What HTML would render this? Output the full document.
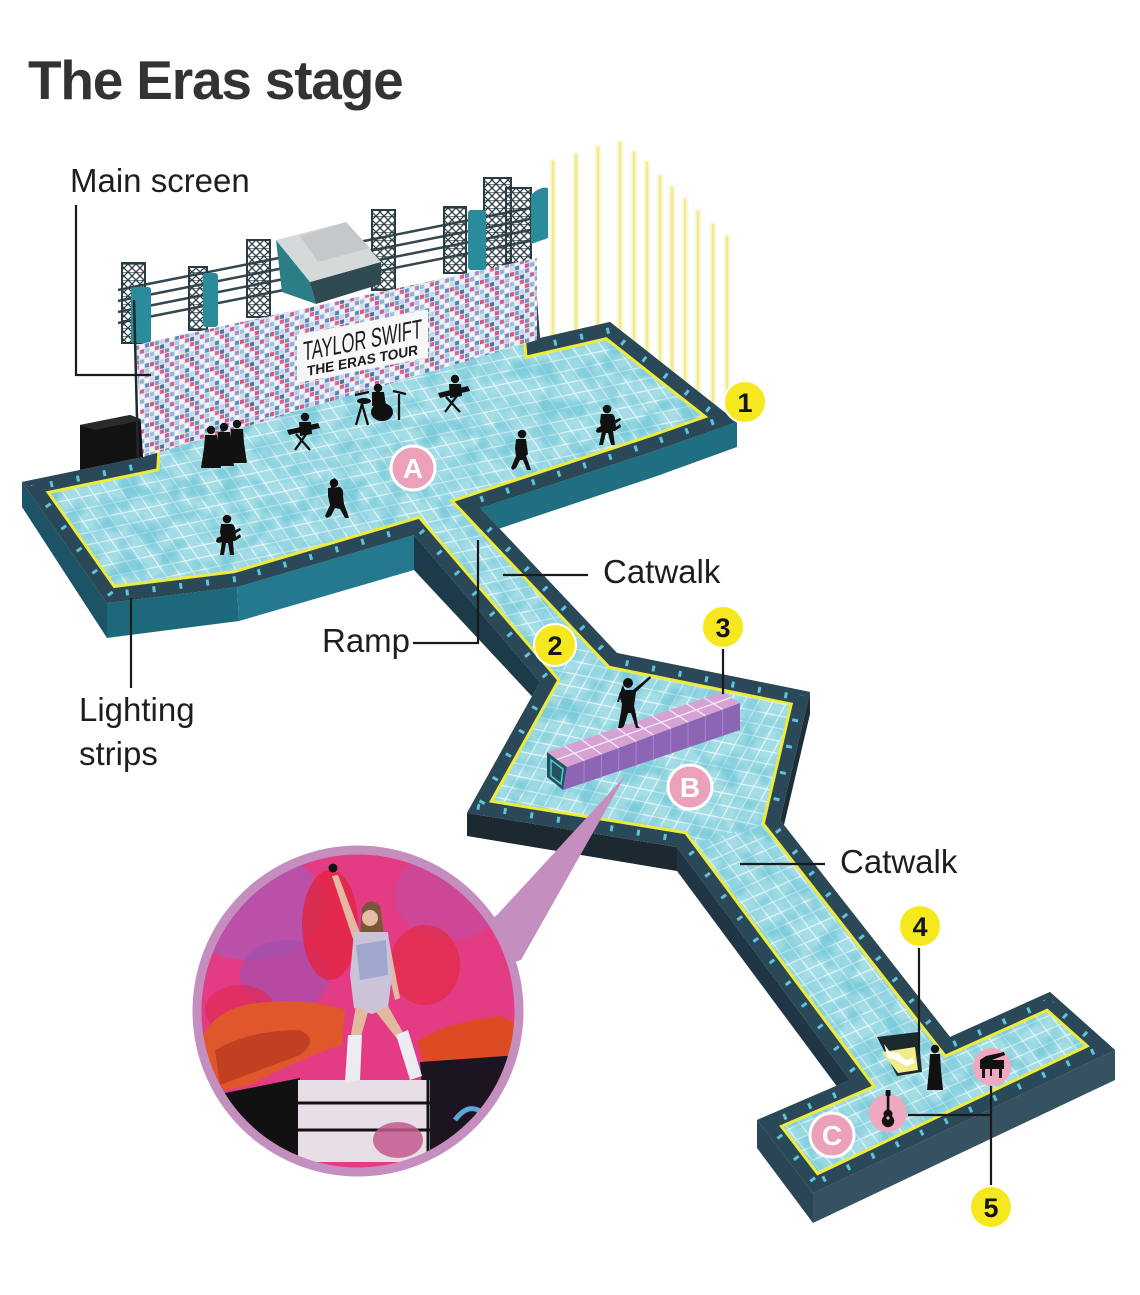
<!DOCTYPE html>
<html><head><meta charset="utf-8"><style>
html,body{margin:0;padding:0;background:#fff;}
svg{display:block;}
text{font-family:"Liberation Sans",sans-serif;}
</style></head><body>
<svg width="1140" height="1295" viewBox="0 0 1140 1295" xmlns="http://www.w3.org/2000/svg">
<defs>
<pattern id="gMain" width="13" height="13" patternUnits="userSpaceOnUse" patternTransform="matrix(1 -0.21 0.575 0.82 0 0)">
<path d="M0,0.6 H13 M0.6,0 V13" stroke="#f3fcfd" stroke-width="1.2" fill="none" opacity="0.85"/>
</pattern>
<pattern id="gB" width="13" height="13" patternUnits="userSpaceOnUse" patternTransform="matrix(0.98 0.2 -0.487 0.873 0 0)">
<path d="M0,0.6 H13 M0.6,0 V13" stroke="#f3fcfd" stroke-width="1.2" fill="none" opacity="0.85"/>
</pattern>
<pattern id="gC" width="13" height="13" patternUnits="userSpaceOnUse" patternTransform="matrix(0.916 -0.4 0.609 0.793 0 0)">
<path d="M0,0.6 H13 M0.6,0 V13" stroke="#f3fcfd" stroke-width="1.2" fill="none" opacity="0.85"/>
</pattern>
<pattern id="mosaic" width="30" height="20" patternUnits="userSpaceOnUse" patternTransform="skewY(-14)">
<rect width="30" height="20" fill="#d9e6ef"/>
<rect x="0" y="0" width="4" height="4" fill="#df3d6f"/>
<rect x="5" y="0" width="4" height="4" fill="#6d95c4"/>
<rect x="10" y="0" width="4" height="4" fill="#b9d2e6"/>
<rect x="15" y="0" width="4" height="4" fill="#8d74b4"/>
<rect x="20" y="0" width="4" height="4" fill="#f3f3f7"/>
<rect x="25" y="0" width="4" height="4" fill="#4f7fb5"/>
<rect x="0" y="5" width="4" height="4" fill="#f3f3f7"/>
<rect x="5" y="5" width="4" height="4" fill="#d6527f"/>
<rect x="10" y="5" width="4" height="4" fill="#3a5f8e"/>
<rect x="15" y="5" width="4" height="4" fill="#cfe0ee"/>
<rect x="20" y="5" width="4" height="4" fill="#c94b88"/>
<rect x="25" y="5" width="4" height="4" fill="#a9c6e0"/>
<rect x="0" y="10" width="4" height="4" fill="#93b9d8"/>
<rect x="5" y="10" width="4" height="4" fill="#eef2f6"/>
<rect x="10" y="10" width="4" height="4" fill="#e2487a"/>
<rect x="15" y="10" width="4" height="4" fill="#5a86ba"/>
<rect x="20" y="10" width="4" height="4" fill="#f0f0f4"/>
<rect x="25" y="10" width="4" height="4" fill="#9a80bc"/>
<rect x="0" y="15" width="4" height="4" fill="#c7d9e8"/>
<rect x="5" y="15" width="4" height="4" fill="#4470a6"/>
<rect x="10" y="15" width="4" height="4" fill="#eef2f6"/>
<rect x="15" y="15" width="4" height="4" fill="#d94078"/>
<rect x="20" y="15" width="4" height="4" fill="#7fa6cf"/>
<rect x="25" y="15" width="4" height="4" fill="#f5f5f8"/>
</pattern>
<pattern id="truss" width="8" height="8" patternUnits="userSpaceOnUse">
<path d="M0,0 L8,8 M8,0 L0,8 M0,0 H8" stroke="#2e3f45" stroke-width="1.3" fill="none"/>
</pattern>
<filter id="mott" x="0" y="0" width="100%" height="100%" color-interpolation-filters="sRGB">
<feTurbulence type="fractalNoise" baseFrequency="0.05" numOctaves="2" seed="7"/>
<feColorMatrix type="matrix" values="0 0 0 0 0.36  0 0 0 0 0.74  0 0 0 0 0.82  3 0 0 0 -1.2"/>
</filter>
<clipPath id="stageClip"><polygon points="22,482 143,457 145,420 537,300 540,338 610,322 737,422 657,450 480,508 617,653 810,692 780,820 950,1037 1050,992 1115,1050 813,1193 757,1120 850,1080 677,847 467,813 540,682 414,535 237,587 107,603"/></clipPath>
<clipPath id="photoClip"><circle cx="358" cy="1011" r="157"/></clipPath>
</defs>

<!-- Title -->
<text x="28" y="99" font-size="55" font-weight="bold" fill="#333" letter-spacing="-1.2">The Eras stage</text>

<!-- light beams -->
<g stroke-linecap="round">
<g stroke="#f6f1b4" stroke-width="7" opacity="0.45">
<line x1="553" y1="162" x2="553" y2="335"/><line x1="576" y1="155" x2="576" y2="335"/><line x1="598" y1="148" x2="598" y2="335"/><line x1="620" y1="143" x2="620" y2="334"/><line x1="634" y1="153" x2="634" y2="345"/><line x1="647" y1="163" x2="647" y2="355"/><line x1="660" y1="177" x2="660" y2="365"/><line x1="672" y1="188" x2="672" y2="375"/><line x1="685" y1="200" x2="685" y2="385"/><line x1="698" y1="212" x2="698" y2="395"/><line x1="713" y1="225" x2="713" y2="407"/><line x1="727" y1="237" x2="727" y2="418"/>
</g>
<g stroke="#f2ea8c" stroke-width="2.6">
<line x1="553" y1="162" x2="553" y2="335"/><line x1="576" y1="155" x2="576" y2="335"/><line x1="598" y1="148" x2="598" y2="335"/><line x1="620" y1="143" x2="620" y2="334"/><line x1="634" y1="153" x2="634" y2="345"/><line x1="647" y1="163" x2="647" y2="355"/><line x1="660" y1="177" x2="660" y2="365"/><line x1="672" y1="188" x2="672" y2="375"/><line x1="685" y1="200" x2="685" y2="385"/><line x1="698" y1="212" x2="698" y2="395"/><line x1="713" y1="225" x2="713" y2="407"/><line x1="727" y1="237" x2="727" y2="418"/>
</g>
</g>

<!-- rails -->
<g stroke="#34474e" stroke-width="2.5">
<line x1="118" y1="290" x2="545" y2="205"/>
<line x1="118" y1="301" x2="545" y2="216"/>
<line x1="118" y1="312" x2="545" y2="227"/>
<line x1="118" y1="323" x2="545" y2="238"/>
</g>
<!-- trusses -->
<g fill="url(#truss)" stroke="#2b3b41" stroke-width="2">
<rect x="122" y="263" width="23" height="80"/>
<rect x="189" y="267" width="18" height="63"/>
<rect x="247" y="240" width="23" height="77"/>
<rect x="372" y="210" width="23" height="80"/>
<rect x="444" y="207" width="22" height="66"/>
<rect x="484" y="178" width="27" height="92"/>
<rect x="506" y="188" width="25" height="75"/>
</g>
<!-- gray box -->
<polygon points="276,240 310,282 316,304 282,292" fill="#2b7d86"/>
<polygon points="310,282 381,262 381,284 316,304" fill="#2f4a50"/>
<polygon points="276,240 346,222 381,262 310,282" fill="#d5d9d9"/>
<polygon points="300,236 346,222 370,248 318,262" fill="#c3c9ca"/>
<!-- teal blades -->
<g fill="#2a8b9a">
<rect x="131" y="287" width="20" height="56" rx="3"/>
<rect x="203" y="273" width="15" height="54" rx="3"/>
<rect x="468" y="210" width="18" height="60" rx="3"/>
<path d="M531,195 Q540,186 548,188 L548,238 L531,244 Z"/>
</g>

<!-- amp box -->
<polygon points="80,425 130,415 143,420 143,463 80,470" fill="#121212"/>
<polygon points="80,425 130,415 143,420 95,430" fill="#2a2a2a"/>

<!-- walls -->
<polygon points="22,482 107,603 107,638 22,507" fill="#1c5367"/>
<polygon points="107,603 237,587 239,621 107,638" fill="#1e687c"/>
<polygon points="237,587 414,535 414,570 239,621" fill="#24798f"/>
<polygon points="737,422 737,447 657,476 480,535 480,508 657,450" fill="#1f6e82"/>
<polygon points="414,535 540,682 540,705 414,570" fill="#1c3a48"/>
<polygon points="540,682 467,813 467,836 540,705" fill="#1a2c36"/>
<polygon points="467,813 677,847 677,871 467,836" fill="#1d2931"/>
<polygon points="677,847 850,1080 850,1104 677,871" fill="#203645"/>
<polygon points="810,692 780,820 780,842 810,714" fill="#1d2e38"/>
<polygon points="757,1120 813,1193 813,1223 757,1148" fill="#2a4555"/>
<polygon points="813,1193 1115,1050 1115,1080 813,1223" fill="#36515f"/>

<!-- stage top -->
<g clip-path="url(#stageClip)">
<rect x="0" y="280" width="1140" height="960" fill="#a4dde6"/>
<rect x="0" y="280" width="1140" height="960" fill="url(#gMain)"/>
<polygon points="562,642 812,692 782,822 677,849 465,815" fill="#a4dde6"/>
<polygon points="562,642 812,692 782,822 677,849 465,815" fill="url(#gB)"/>
<polygon points="677,847 780,820 950,1037 1050,992 1115,1050 813,1193 757,1120 850,1080" fill="#a4dde6"/>
<polygon points="677,847 780,820 950,1037 1050,992 1115,1050 813,1193 757,1120 850,1080" fill="url(#gC)"/>
<rect x="0" y="280" width="1140" height="960" filter="url(#mott)" opacity="0.55"/>
<g fill="none" stroke-linejoin="miter">
<polygon points="22,482 143,457 145,420 537,300 540,338 610,322 737,422 657,450 480,508 617,653 810,692 780,820 950,1037 1050,992 1115,1050 813,1193 757,1120 850,1080 677,847 467,813 540,682 414,535 237,587 107,603" stroke="#eeeb3a" stroke-width="34"/>
<polygon points="22,482 143,457 145,420 537,300 540,338 610,322 737,422 657,450 480,508 617,653 810,692 780,820 950,1037 1050,992 1115,1050 813,1193 757,1120 850,1080 677,847 467,813 540,682 414,535 237,587 107,603" stroke="#2a4858" stroke-width="28"/>
<polygon points="22,482 143,457 145,420 537,300 540,338 610,322 737,422 657,450 480,508 617,653 810,692 780,820 950,1037 1050,992 1115,1050 813,1193 757,1120 850,1080 677,847 467,813 540,682 414,535 237,587 107,603" stroke="#5ec4d8" stroke-width="22" stroke-dasharray="3 24"/>
<polygon points="22,482 143,457 145,420 537,300 540,338 610,322 737,422 657,450 480,508 617,653 810,692 780,820 950,1037 1050,992 1115,1050 813,1193 757,1120 850,1080 677,847 467,813 540,682 414,535 237,587 107,603" stroke="#2a4858" stroke-width="10"/>
</g>
</g>

<!-- screen -->
<polygon points="136,345 537,258 537,340 143,457" fill="url(#mosaic)"/>
<polygon points="136,345 537,258 537,340 143,457" fill="#ffffff" opacity="0.1"/>
<line x1="134" y1="300" x2="138" y2="457" stroke="#1e2a2e" stroke-width="2.5"/>
<!-- banner -->
<g transform="translate(297,335) skewY(-11)">
<rect x="0" y="0" width="131" height="48" fill="#f7f7f7"/>
<text x="6" y="27" font-size="27" font-family="Liberation Serif, serif" fill="#1a1a1a" textLength="119" lengthAdjust="spacingAndGlyphs">TAYLOR SWIFT</text>
<text x="10" y="43" font-size="14" font-weight="bold" font-family="Liberation Serif, serif" fill="#1a1a1a" textLength="111" lengthAdjust="spacingAndGlyphs">THE ERAS TOUR</text>
</g>

<!-- purple platform -->
<polygon points="547,752 567,767 563,790 547,777" fill="#24525c"/>
<polygon points="551,760 563,769 561,784 551,776" fill="none" stroke="#55c7d8" stroke-width="1.5"/>
<polygon points="567,767 740,703 740,730 563,790" fill="#8c66b4"/>
<polygon points="547,752 722,692 740,703 567,767" fill="#d6a2d4"/>
<g stroke="#f6e9f6" stroke-width="1.3">
<line x1="564.5" y1="746" x2="584.3" y2="760.6"/><line x1="582" y1="740" x2="601.6" y2="754.2"/><line x1="599.5" y1="734" x2="618.9" y2="747.8"/><line x1="617" y1="728" x2="636.2" y2="741.4"/><line x1="634.5" y1="722" x2="653.5" y2="735"/><line x1="652" y1="716" x2="670.8" y2="728.6"/><line x1="669.5" y1="710" x2="688.1" y2="722.2"/><line x1="687" y1="704" x2="705.4" y2="715.8"/><line x1="704.5" y1="698" x2="722.7" y2="709.4"/>
<line x1="557" y1="759.5" x2="731" y2="697.5"/>
</g>
<g stroke="#a584cc" stroke-width="1">
<line x1="584.3" y1="760.6" x2="583.8" y2="784"/><line x1="601.6" y1="754.2" x2="601.2" y2="778"/><line x1="618.9" y1="747.8" x2="618.6" y2="772"/><line x1="636.2" y1="741.4" x2="636" y2="766"/><line x1="653.5" y1="735" x2="653.4" y2="760"/><line x1="670.8" y1="728.6" x2="670.7" y2="754"/><line x1="688.1" y1="722.2" x2="688" y2="748"/><line x1="705.4" y1="715.8" x2="705.3" y2="742"/><line x1="722.7" y1="709.4" x2="722.6" y2="736"/>
</g>

<!-- silhouettes -->
<g fill="#111">
<circle cx="211" cy="430" r="4.2"/><path d="M205,435 L217,435 L218,448 L221,468 L201,468 L204,448 Z"/>
<circle cx="224" cy="427" r="4.2"/><path d="M218,432 L230,432 L231,446 L234,466 L214,466 L217,446 Z"/>
<circle cx="237" cy="424" r="4.2"/><path d="M231,429 L243,429 L244,443 L247,463 L227,463 L230,443 Z"/>
<circle cx="305" cy="417" r="4.2"/><path d="M299,422 L311,422 L312,434 L300,436 Z"/>
<path d="M287,430 L318,423 L320,428 L289,435 Z"/>
<circle cx="378" cy="388" r="4.2"/><path d="M372,392 L384,392 L386,405 L372,406 Z"/>
<ellipse cx="382" cy="412" rx="11" ry="9"/><ellipse cx="364" cy="401" rx="7" ry="3"/>
<circle cx="455" cy="379" r="4.2"/><path d="M449,384 L461,384 L462,396 L450,398 Z"/>
<path d="M438,393 L468,386 L470,391 L440,398 Z"/>
<g transform="translate(227,555)"><circle cx="0" cy="-36" r="4.3"/><path d="M-6,-31 L5,-31 Q8,-30 8,-25 L9,-18 L13,-21 L14,-18 L8,-14 L6,-14 L7,0 L3,0 L1,-12 L-1,-12 L-3,0 L-7,0 L-5,-14 L-7,-23 Z"/><path d="M-10,-17 L13,-27 L14,-25 L-5,-13 Q-10,-11 -11,-14 Z"/></g>
<g transform="translate(336,518)"><circle cx="-2" cy="-35" r="4.3"/><path d="M-8,-30 L4,-31 Q8,-28 7,-22 L8,-14 L11,-6 L13,0 L9,0 L4,-9 L-1,-10 L-5,-2 L-9,0 L-11,-2 L-6,-13 L-8,-22 Z"/><path d="M-5,-34 L-2,-40 L0,-39 L-2,-28 Q-1,-20 -5,-20 Z"/></g>
<g transform="translate(520,470)"><circle cx="2" cy="-36" r="4.3"/><path d="M-4,-31 L6,-31 L8,-16 L6,-14 L9,-6 L11,0 L7,0 L3,-10 L0,-10 L-4,-2 L-7,0 L-9,-2 L-4,-14 L-5,-22 Z"/></g>
<g transform="translate(607,445)"><circle cx="0" cy="-36" r="4.3"/><path d="M-6,-31 L5,-31 Q8,-30 8,-25 L9,-18 L13,-21 L14,-18 L8,-14 L6,-14 L8,0 L4,0 L1,-12 L-1,-12 L-4,0 L-8,0 L-5,-14 L-7,-23 Z"/><path d="M-10,-17 L13,-27 L14,-25 L-5,-13 Q-10,-11 -11,-14 Z"/></g>
<g transform="translate(628,728)"><circle cx="0" cy="-45" r="5"/><path d="M-5,-43 Q-9,-35 -7,-29 L-3,-38 Z"/><path d="M-5,-38 L5,-38 L16,-47 L22,-52 L23,-50 L8,-36 L6,-22 L7,-18 L10,-2 L12,0 L8,0 L3,-15 L0,-15 L-4,-2 L-6,0 L-10,0 L-7,-16 L-6,-24 L-8,-30 L-9,-26 L-11,-26 L-8,-36 Z"/></g>
</g>
<g stroke="#111" stroke-width="2.3">
<line x1="296" y1="434" x2="310" y2="450"/><line x1="309" y1="430" x2="295" y2="450"/>
<line x1="446" y1="397" x2="460" y2="412"/><line x1="459" y1="393" x2="445" y2="412"/>
<line x1="355" y1="395" x2="369" y2="392"/><line x1="393" y1="391" x2="406" y2="394"/>
<line x1="362" y1="404" x2="356" y2="425"/><line x1="362" y1="404" x2="368" y2="425"/><line x1="399" y1="394" x2="399" y2="420"/>
</g>

<!-- C stage lift and figure -->
<polygon points="877,1037 918,1032 922,1072 897,1076" fill="#1c2a2e"/>
<polygon points="882,1052 915,1047 918,1070 898,1073" fill="#f1ec8a"/>
<path d="M884,1044 L890,1052 L898,1053 L906,1060 L913,1058 L915,1063 L906,1066 L896,1060 L888,1058 Z" fill="#fff"/>
<circle cx="935" cy="1049" r="4.2" fill="#111"/>
<path d="M930,1054 L940,1054 L941,1070 L943,1090 L927,1090 L929,1070 Z" fill="#111"/>

<!-- photo callout -->
<polygon points="625,776 497,915 358,1011 521,960" fill="#c48fbf"/>
<g clip-path="url(#photoClip)">
<rect x="190" y="840" width="340" height="345" fill="#e33c84"/>
<ellipse cx="250" cy="905" rx="75" ry="55" fill="#b354ad" opacity="0.85"/>
<ellipse cx="285" cy="975" rx="45" ry="35" fill="#a24fae" opacity="0.7"/>
<ellipse cx="450" cy="895" rx="55" ry="45" fill="#c74b9e" opacity="0.75"/>
<ellipse cx="330" cy="925" rx="28" ry="55" fill="#e22440" opacity="0.8"/>
<ellipse cx="425" cy="965" rx="35" ry="40" fill="#e32a47" opacity="0.75"/>
<ellipse cx="240" cy="1010" rx="35" ry="25" fill="#e12a55" opacity="0.7"/>
<path d="M200,1040 Q215,1010 250,1004 Q300,996 345,1010 L342,1045 Q300,1058 250,1085 L200,1095 Z" fill="#e0572b"/>
<path d="M215,1050 Q250,1030 300,1030 Q320,1040 300,1055 Q260,1070 220,1085 Z" fill="#b53620" opacity="0.7"/>
<path d="M417,1042 Q445,1022 500,1016 L520,1025 L520,1062 Q470,1072 425,1066 Z" fill="#dd4b25"/>
<polygon points="190,1100 300,1078 300,1190 190,1190" fill="#111"/>
<polygon points="420,1062 520,1055 520,1190 430,1190" fill="#1c1420"/>
<path d="M455,1120 Q470,1100 485,1115 Q495,1125 505,1108" stroke="#5aa6d8" stroke-width="5" fill="none"/>
<rect x="298" y="1080" width="132" height="82" fill="#e8dfe6"/>
<g stroke="#111" stroke-width="3"><line x1="298" y1="1103" x2="430" y2="1103"/><line x1="298" y1="1130" x2="430" y2="1130"/><line x1="428" y1="1080" x2="428" y2="1162"/></g>
<ellipse cx="398" cy="1140" rx="25" ry="18" fill="#c35a8c" opacity="0.85"/>
<path d="M362,938 L338,875 L332,876 L354,942 Z" fill="#e4b9a2"/>
<circle cx="333" cy="868" r="4.5" fill="#111"/>
<path d="M388,935 L400,998 L395,1000 L382,945 Z" fill="#e4b9a2"/>
<path d="M362,908 Q370,896 380,906 L384,935 L360,935 Z" fill="#7a5638"/>
<circle cx="370" cy="918" r="8" fill="#e6bca4"/>
<path d="M354,932 L388,932 L392,975 L388,1008 L372,1014 L354,1008 L350,975 Z" fill="#cbc4d9"/>
<path d="M356,945 L386,940 L388,975 L360,980 Z" fill="#7d8fc7" opacity="0.55"/>
<path d="M356,1006 L368,1012 L360,1040 L350,1040 Z" fill="#e2b8a0"/>
<path d="M376,1012 L388,1006 L405,1036 L398,1040 Z" fill="#e2b8a0"/>
<path d="M348,1035 L362,1035 L360,1080 L345,1082 Z" fill="#ececf2"/>
<path d="M396,1035 L408,1030 L422,1076 L410,1080 Z" fill="#ececf2"/>
</g>
<circle cx="358" cy="1011" r="161" fill="none" stroke="#c48fbf" stroke-width="9"/>

<!-- leader lines -->
<g stroke="#1a1a1a" stroke-width="2.2" fill="none">
<polyline points="76,205 76,375 151,375"/>
<line x1="131" y1="598" x2="131" y2="688"/>
<line x1="503" y1="575" x2="588" y2="575"/>
<polyline points="413,643 478,643 478,540"/>
<line x1="723" y1="648" x2="723" y2="694"/>
<line x1="740" y1="864" x2="825" y2="864"/>
<line x1="919" y1="947" x2="919" y2="1055"/>
<line x1="908" y1="1115" x2="991" y2="1115"/>
<line x1="991" y1="1083" x2="991" y2="1186"/>
</g>

<!-- pink markers -->
<g fill="#eaa1b9" stroke="#fff" stroke-width="3">
<circle cx="413" cy="468" r="22"/>
<circle cx="690" cy="787" r="22"/>
<circle cx="832" cy="1135" r="22"/>
</g>
<circle cx="888" cy="1113" r="19" fill="#f0a8c0"/>
<circle cx="992" cy="1067" r="19" fill="#f0a8c0"/>
<g fill="#fff" font-size="28" font-weight="bold" text-anchor="middle">
<text x="413" y="478">A</text>
<text x="690" y="797">B</text>
<text x="832" y="1145">C</text>
</g>
<g fill="#111">
<rect x="886.8" y="1094" width="2.6" height="17"/>
<rect x="885.6" y="1090" width="5" height="6" rx="1"/>
<circle cx="888" cy="1114" r="4.5"/>
<circle cx="888" cy="1121" r="6.2"/>
</g>
<circle cx="888" cy="1118" r="1.6" fill="#f0a8c0"/>
<g fill="#111">
<path d="M980,1060 L986,1056 L1004,1052 L1005,1055 L992,1060 L1004,1060 L1004,1069 L980,1069 Z"/>
<rect x="982" y="1069" width="3" height="9"/>
<rect x="999" y="1069" width="3" height="9"/>
<rect x="990" y="1069" width="2" height="7"/>
</g>

<!-- yellow markers -->
<g fill="#f6e81e" stroke="#fff" stroke-width="2">
<circle cx="745" cy="402" r="21"/>
<circle cx="555" cy="645" r="21"/>
<circle cx="723" cy="627" r="21"/>
<circle cx="920" cy="926" r="21"/>
<circle cx="991" cy="1207" r="21"/>
</g>
<g fill="#151515" font-size="27" font-weight="bold" text-anchor="middle">
<text x="745" y="412">1</text>
<text x="555" y="655">2</text>
<text x="723" y="637">3</text>
<text x="920" y="936">4</text>
<text x="991" y="1217">5</text>
</g>

<!-- labels -->
<g fill="#1e1e1e" font-size="33">
<text x="70" y="192">Main screen</text>
<text x="603" y="583">Catwalk</text>
<text x="322" y="652">Ramp</text>
<text x="79" y="721">Lighting</text>
<text x="79" y="765">strips</text>
<text x="840" y="873">Catwalk</text>
</g>
</svg>
</body></html>
